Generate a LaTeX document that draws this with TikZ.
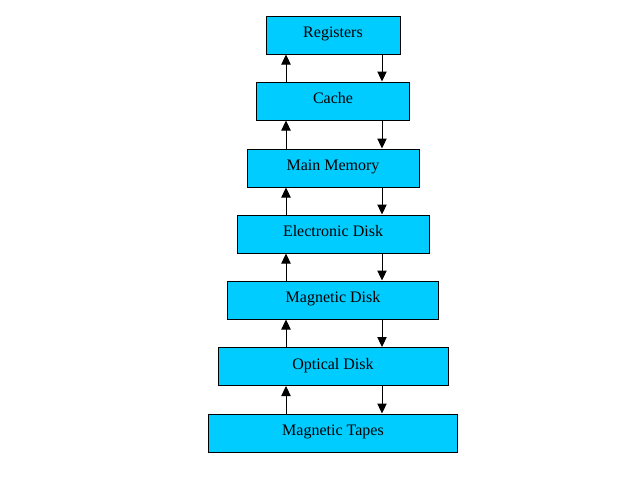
\documentclass[tikz,border=0pt]{standalone}
\usepackage{fontspec}
\setmainfont{Liberation Serif}
\usepackage{tikz}
\usetikzlibrary{arrows.meta}

\definecolor{boxcyan}{RGB}{0,204,255}

\begin{document}
\begin{tikzpicture} [x=0.75pt, y=-0.75pt,
  level/.style={draw, line width=0.75pt, fill=boxcyan, minimum height=28.5pt,
    inner sep=0pt, text height=7pt, text depth=3pt,
    font=\fontsize{12}{14}\selectfont},
  arr/.style={line width=0.75pt, -{Triangle[width=7pt, length=7.5pt]}}]

\useasboundingbox (0,0) rectangle (640,480);

\node [level, minimum width=100.5pt] (reg) at (333, 35) {Registers};
\node [level, minimum width=114.75pt] (cache) at (333, 101) {Cache};
\node [level, minimum width=129pt] (mem) at (333, 168) {Main Memory};
\node [level, minimum width=144pt] (edisk) at (333, 234) {Electronic Disk};
\node [level, minimum width=158.25pt] (mdisk) at (333, 300) {Magnetic Disk};
\node [level, minimum width=172.5pt] (odisk) at (333, 366.5) {Optical Disk};
\node [level, minimum width=186.75pt] (tapes) at (333, 433) {Magnetic Tapes};

% upward arrows
\draw [arr] ([xshift=-35.25pt]cache.north) -- ([xshift=-35.25pt]reg.south);
\draw [arr] ([xshift=-35.25pt]mem.north) -- ([xshift=-35.25pt]cache.south);
\draw [arr] ([xshift=-35.25pt]edisk.north) -- ([xshift=-35.25pt]mem.south);
\draw [arr] ([xshift=-35.25pt]mdisk.north) -- ([xshift=-35.25pt]edisk.south);
\draw [arr] ([xshift=-35.25pt]odisk.north) -- ([xshift=-35.25pt]mdisk.south);
\draw [arr] ([xshift=-35.25pt]tapes.north) -- ([xshift=-35.25pt]odisk.south);

% downward arrows
\draw [arr] ([xshift=36.75pt]reg.south) -- ([xshift=36.75pt]cache.north);
\draw [arr] ([xshift=36.75pt]cache.south) -- ([xshift=36.75pt]mem.north);
\draw [arr] ([xshift=36.75pt]mem.south) -- ([xshift=36.75pt]edisk.north);
\draw [arr] ([xshift=36.75pt]edisk.south) -- ([xshift=36.75pt]mdisk.north);
\draw [arr] ([xshift=36.75pt]mdisk.south) -- ([xshift=36.75pt]odisk.north);
\draw [arr] ([xshift=36.75pt]odisk.south) -- ([xshift=36.75pt]tapes.north);

\end{tikzpicture}
\end{document}
